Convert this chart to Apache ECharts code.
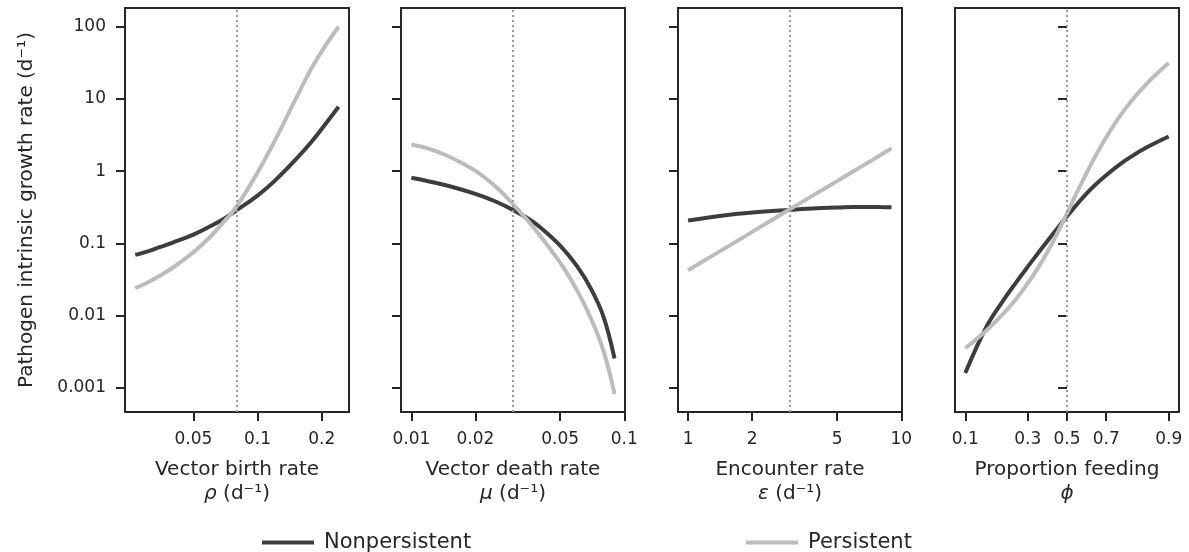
<!DOCTYPE html>
<html>
<head>
<meta charset="utf-8">
<script src="https://cdn.jsdelivr.net/npm/echarts@6/dist/echarts.min.js"></script>
<style>
  html, body { margin: 0; padding: 0; background: #fff; }
  #chart { width: 1189px; height: 552px; }
</style>
</head>
<body>
<div id="chart"></div>
<script>
// y axis (shared, log scale)
const yTicks = [0.001, 0.01, 0.1, 1, 10, 100]

// panel 1: vector birth rate
const birthRate = [0.0267, 0.03, 0.035, 0.04, 0.05, 0.06, 0.07, 0.08, 0.1, 0.12, 0.15, 0.18, 0.21, 0.24]
const birthNonpersistent = [0.0695, 0.0766, 0.0898, 0.103, 0.133, 0.173, 0.222, 0.29, 0.46, 0.73, 1.42, 2.6, 4.65, 7.8]
const birthPersistent = [0.024, 0.0282, 0.0361, 0.0462, 0.0755, 0.124, 0.204, 0.33, 0.96, 2.58, 9.6, 27.2, 56.8, 100]
const birthTicks = [0.05, 0.1, 0.2]

// panel 2: vector death rate
const deathRate = [0.01, 0.012, 0.015, 0.02, 0.025, 0.03, 0.035, 0.04, 0.05, 0.06, 0.07, 0.08, 0.09]
const deathNonpersistent = [0.811, 0.728, 0.625, 0.485, 0.378, 0.292, 0.225, 0.171, 0.0935, 0.0485, 0.0232, 0.0096, 0.00256]
const deathPersistent = [2.34, 2.05, 1.6, 1.01, 0.604, 0.352, 0.212, 0.131, 0.0542, 0.0226, 0.00897, 0.00321, 0.000826]
const deathTicks = [0.01, 0.02, 0.05, 0.1]

// panel 3: encounter rate
const encounterRate = [1, 1.5, 2, 3, 4, 5, 6, 7, 8, 9]
const encounterNonpersistent = [0.208, 0.246, 0.268, 0.292, 0.308, 0.314, 0.32, 0.321, 0.319, 0.318]
const encounterPersistent = [0.0427, 0.087, 0.145, 0.297, 0.494, 0.73, 1.01, 1.32, 1.68, 2.07]
const encounterTicks = [1, 2, 5, 10]

// panel 4: proportion feeding (logit scale)
const feeding = [0.1, 0.15, 0.2, 0.25, 0.3, 0.35, 0.4, 0.45, 0.5, 0.55, 0.6, 0.65, 0.7, 0.75, 0.8, 0.85, 0.9]
const feedingNonpersistent = [0.00161, 0.00716, 0.016, 0.029, 0.0478, 0.0743, 0.112, 0.164, 0.238, 0.34, 0.478, 0.655, 0.879, 1.19, 1.59, 2.16, 3.03]
const feedingPersistent = [0.00355, 0.0063, 0.0105, 0.0171, 0.0281, 0.0467, 0.0802, 0.142, 0.262, 0.489, 0.9, 1.64, 2.95, 5.27, 9.31, 16.6, 31.4]
const feedingTicks = [0.1, 0.3, 0.5, 0.7, 0.9]

const DARK = '#3d3d3d'
const LIGHT = '#bcbcbf'
const INK = '#262626'
const FONT = 'DejaVu Sans'

const logit = (p) => Math.log(p / (1 - p))
const expit = (v) => 1 / (1 + Math.exp(-v))
const fmt = (v) => String(Number(v.toPrecision(6)))

const panels = [
  { x: birthRate, dark: birthNonpersistent, light: birthPersistent, ticks: birthTicks,
    ref: 0.08, min: 0.0239, max: 0.2685, log: true, name: 'Vector birth rate\n{i|ρ} (d⁻¹)' },
  { x: deathRate, dark: deathNonpersistent, light: deathPersistent, ticks: deathTicks,
    ref: 0.03, min: 0.00894, max: 0.1008, log: true, name: 'Vector death rate\n{i|μ} (d⁻¹)' },
  { x: encounterRate, dark: encounterNonpersistent, light: encounterPersistent, ticks: encounterTicks,
    ref: 3, min: 0.897, max: 10.08, log: true, name: 'Encounter rate\n{i|ε} (d⁻¹)' },
  { x: feeding, dark: feedingNonpersistent, light: feedingPersistent, ticks: feedingTicks,
    ref: 0.5, min: -2.42, max: 2.42, log: false, name: 'Proportion feeding\n{i|ϕ}' }
]

const gridLefts = [125, 401, 678, 955]

const chart = echarts.init(document.getElementById('chart'), null, { renderer: 'canvas' })

const grid = []
const xAxis = []
const yAxis = []
const series = []

panels.forEach((p, i) => {
  grid.push({
    left: gridLefts[i], top: 8, width: 224, height: 404,
    show: true, borderColor: INK, borderWidth: 2, backgroundColor: 'transparent'
  })

  // the logit panel works on transformed x values
  const tx = p.log ? (v) => v : logit
  const tickVals = p.ticks.map(tx)

  xAxis.push({
    type: p.log ? 'log' : 'value',
    logBase: 10,
    gridIndex: i,
    min: p.min,
    max: p.max,
    axisLine: { show: false },
    splitLine: { show: false },
    axisTick: { show: true, length: 9, lineStyle: { color: INK, width: 2 }, customValues: tickVals },
    axisLabel: {
      customValues: tickVals,
      margin: 19,
      fontSize: 17,
      fontFamily: FONT,
      color: INK,
      formatter: p.log ? (v) => fmt(v) : (v) => expit(v).toFixed(1)
    },
    name: p.name,
    nameLocation: 'middle',
    nameGap: 46,
    nameTextStyle: {
      fontSize: 20, fontFamily: FONT, color: INK, lineHeight: 24,
      rich: { i: { fontSize: 20, fontFamily: FONT, color: INK, fontStyle: 'italic', lineHeight: 24 } }
    }
  })

  yAxis.push({
    type: 'log',
    logBase: 10,
    gridIndex: i,
    min: 0.000466,
    max: 181.5,
    axisLine: { show: false },
    splitLine: { show: false },
    axisTick: { show: true, length: 9, lineStyle: { color: INK, width: 2 }, customValues: yTicks },
    axisLabel: {
      show: i === 0,
      customValues: yTicks,
      margin: 19,
      fontSize: 17,
      fontFamily: FONT,
      color: INK,
      formatter: (v) => fmt(v)
    },
    name: i === 0 ? 'Pathogen intrinsic growth rate (d⁻¹)' : '',
    nameLocation: 'middle',
    nameGap: 88,
    nameTextStyle: { fontSize: 20, fontFamily: FONT, color: INK }
  })

  series.push({
    name: 'Nonpersistent',
    type: 'line',
    xAxisIndex: i,
    yAxisIndex: i,
    data: p.x.map((v, k) => [tx(v), p.dark[k]]),
    showSymbol: false,
    smooth: 0.4,
    color: DARK,
    itemStyle: { color: DARK },
    lineStyle: { color: DARK, width: 4 },
    markLine: {
      silent: true,
      symbol: ['none', 'none'],
      label: { show: false },
      lineStyle: { color: '#999999', width: 2, type: [2, 3] },
      data: [{ xAxis: tx(p.ref) }]
    }
  })
  series.push({
    name: 'Persistent',
    type: 'line',
    xAxisIndex: i,
    yAxisIndex: i,
    data: p.x.map((v, k) => [tx(v), p.light[k]]),
    showSymbol: false,
    smooth: 0.4,
    color: LIGHT,
    itemStyle: { color: LIGHT },
    lineStyle: { color: LIGHT, width: 4 }
  })
})

const legendText = { fontSize: 21, fontFamily: FONT, color: INK, padding: [0, 0, 0, 5] }

chart.setOption({
  animation: false,
  backgroundColor: '#ffffff',
  grid,
  xAxis,
  yAxis,
  series,
  legend: [
    { data: ['Nonpersistent'], left: 257, top: 527, icon: 'rect', itemWidth: 52, itemHeight: 4, textStyle: legendText },
    { data: ['Persistent'], left: 741, top: 527, icon: 'rect', itemWidth: 52, itemHeight: 4, textStyle: legendText }
  ]
})
</script>
</body>
</html>
